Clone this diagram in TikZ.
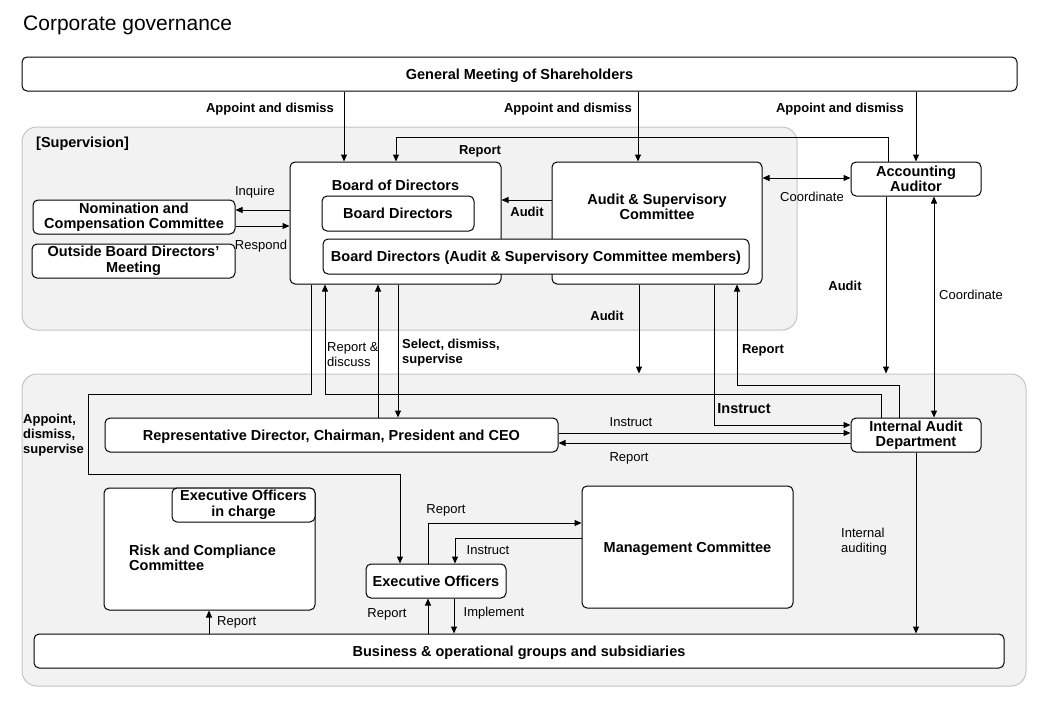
\documentclass[tikz,border=0pt]{standalone}
\usepackage{fontspec}
\setmainfont{Liberation Sans}
\usetikzlibrary{arrows.meta}
\definecolor{regfill}{HTML}{F2F2F2}
\definecolor{regline}{HTML}{C4C4C4}
\begin{document}
\begin{tikzpicture}[x=1pt,y=-1pt,
  box/.style={draw=black, line width=1, rounded corners=5, fill=white, inner sep=0, align=center, font=\bfseries\fontsize{14.5}{15.5}\selectfont},
  one/.style={text height=10.5pt, text depth=0pt},
  region/.style={draw=regline, line width=1, rounded corners=15, fill=regfill, inner sep=0},
  arr/.style={line width=1, -{Triangle[length=7pt,width=6pt]}},
  darr/.style={line width=1, {Triangle[length=7pt,width=6pt]}-{Triangle[length=7pt,width=6pt]}},
  lab/.style={font=\fontsize{13}{15}\selectfont, inner sep=0, align=left, yshift=-1.5pt},
  blab/.style={font=\bfseries\fontsize{13}{15}\selectfont, inner sep=0, align=left, yshift=-1.5pt},
  btxt/.style={font=\bfseries\fontsize{14.5}{15.5}\selectfont, inner sep=0, align=center, yshift=-1pt}]
\useasboundingbox (0,0) rectangle (1040,720);
\fill[white] (0,0) rectangle (1040,720);

% title
\node[anchor=west, inner sep=0, yshift=-2pt, font=\fontsize{21}{24}\selectfont] (title) at (23,23) {Corporate governance};

% regions
\node[region, minimum width=775, minimum height=203] (supreg) at (409.5,228.5) {};
\node[region, minimum width=1004, minimum height=312] (exreg) at (524,530) {};
\node[btxt, anchor=west] (suplab) at (36,143) {[Supervision]};

% boxes
\node[box, one, minimum width=995, minimum height=34] (gm) at (519.5,74) {General Meeting of Shareholders};
\node[box, minimum width=211, minimum height=122] (bod) at (395.5,223) {};
\node[btxt] (bodt) at (395.5,184) {Board of Directors};
\node[box, one, minimum width=152, minimum height=35] (bd) at (398,213.5) {Board Directors};
\node[box, minimum width=210, minimum height=122] (asc) at (657,223) {};
\node[btxt] (asct) at (657,206) {Audit \& Supervisory\\Committee};
\node[box, one, minimum width=426, minimum height=35] (bdasc) at (536,256.5) {Board Directors (Audit \& Supervisory Committee members)};
\node[box, minimum width=202, minimum height=34] (nom) at (134,217) {Nomination and\\Compensation Committee};
\node[box, minimum width=203, minimum height=34] (obd) at (133.5,261) {Outside Board Directors’\\Meeting};
\node[box, minimum width=130, minimum height=34] (aa) at (916,179) {Accounting\\Auditor};
\node[box, minimum width=130, minimum height=34] (iad) at (916,435) {Internal Audit\\Department};
\node[box, one, minimum width=453, minimum height=34] (rep) at (331.5,435) {Representative Director, Chairman, President and CEO};
\node[box, minimum width=211, minimum height=122] (rcc) at (209.5,549) {};
\node[btxt, anchor=west, align=left] (rcct) at (129,557) {Risk and Compliance\\Committee};
\node[box, minimum width=143, minimum height=34] (eoc) at (243.5,505) {Executive Officers\\in charge};
\node[box, one, minimum width=211, minimum height=122] (mc) at (687.5,547) {Management Committee};
\node[box, one, minimum width=140, minimum height=34] (eo) at (436,581) {Executive Officers};
\node[box, one, minimum width=970, minimum height=34] (bus) at (519,651) {Business \& operational groups and subsidiaries};

% appoint and dismiss
\draw[arr] (gm.south -| 344,0) -- (bod.north -| 344,0);
\draw[arr] (gm.south -| 638,0) -- (asc.north -| 638,0);
\draw[arr] (gm.south -| 916,0) -- (aa.north -| 916,0);
\node[blab] at (270,108) {Appoint and dismiss};
\node[blab] at (568,108) {Appoint and dismiss};
\node[blab] at (840,108) {Appoint and dismiss};

% report from accounting auditor to board
\draw[arr] (aa.north -| 888,0) -- (888,137) -- (396,137) -- (bod.north -| 396,0);
\node[blab] at (480,150) {Report};

% inquire / respond
\draw[arr] (bod.west |- 0,210) -- (nom.east |- 0,210);
\draw[arr] (nom.east |- 0,226) -- (bod.west |- 0,226);
\node[lab] at (255,191) {Inquire};
\node[lab] at (261,245) {Respond};

% audit committee -> board
\draw[arr] (asc.west |- 0,200) -- (bod.east |- 0,200);
\node[blab] at (527,210) {Audit};

% coordinate asc <-> aa
\draw[darr] (asc.east |- 0,178) -- (aa.west |- 0,178);
\node[lab] at (812,195) {Coordinate};

% aa audit down
\draw[arr] (aa.south -| 886,0) -- (exreg.north -| 886,0);
\node[blab] at (845,284) {Audit};
% aa coordinate iad
\draw[darr] (aa.south -| 934,0) -- (iad.north -| 934,0);
\node[lab] at (971,293) {Coordinate};

% asc audit down
\draw[arr] (asc.south -| 639,0) -- (exreg.north -| 639,0);
\node[blab] at (607,314) {Audit};

% asc instruct iad
\draw[arr] (asc.south -| 714,0) -- (714,425) -- (iad.west |- 0,425);
\node[btxt] at (744,408) {Instruct};

% iad report to asc
\draw[arr] (iad.north -| 899,0) -- (899,385) -- (737,385) -- (asc.south -| 737,0);
\node[blab] at (763,349) {Report};

% iad report to board
\draw[arr] (iad.north -| 881,0) -- (881,394) -- (325,394) -- (bod.south -| 325,0);

% board appoint exec officers
\draw[arr] (bod.south -| 311,0) -- (311,394) -- (88,394) -- (88,474) -- (400,474) -- (eo.north -| 400,0);
\node[blab, anchor=north west] at (23,412) {Appoint,\\dismiss,\\supervise};

% rep <-> board
\draw[arr] (rep.north -| 378,0) -- (bod.south -| 378,0);
\node[lab, anchor=north west] at (327,341) {Report \&\\discuss};
\draw[arr] (bod.south -| 398,0) -- (rep.north -| 398,0);
\node[blab, anchor=north west] at (402,337) {Select, dismiss,\\supervise};

% rep <-> iad
\draw[arr] (rep.east |- 0,433) -- (iad.west |- 0,433);
\node[lab] at (631,421) {Instruct};
\draw[arr] (iad.west |- 0,443) -- (rep.east |- 0,443);
\node[lab] at (629,457) {Report};

% internal auditing
\draw[arr] (iad.south -| 916,0) -- (bus.north -| 916,0);
\node[lab, anchor=north west] at (841,526) {Internal\\auditing};

% business -> risk
\draw[arr] (bus.north -| 209,0) -- (rcc.south -| 209,0);
\node[lab, anchor=west] at (217,621) {Report};

% exec officers <-> management committee
\draw[arr] (eo.north -| 428,0) -- (428,523) -- (mc.west |- 0,523);
\node[lab] at (446,509) {Report};
\draw[arr] (mc.west |- 0,538) -- (455,538) -- (eo.north -| 455,0);
\node[lab] at (488,549) {Instruct};

% exec officers <-> business
\draw[arr] (bus.north -| 428,0) -- (eo.south -| 428,0);
\node[lab] at (387,613) {Report};
\draw[arr] (eo.south -| 454,0) -- (bus.north -| 454,0);
\node[lab] at (494,612) {Implement};
\end{tikzpicture}
\end{document}
